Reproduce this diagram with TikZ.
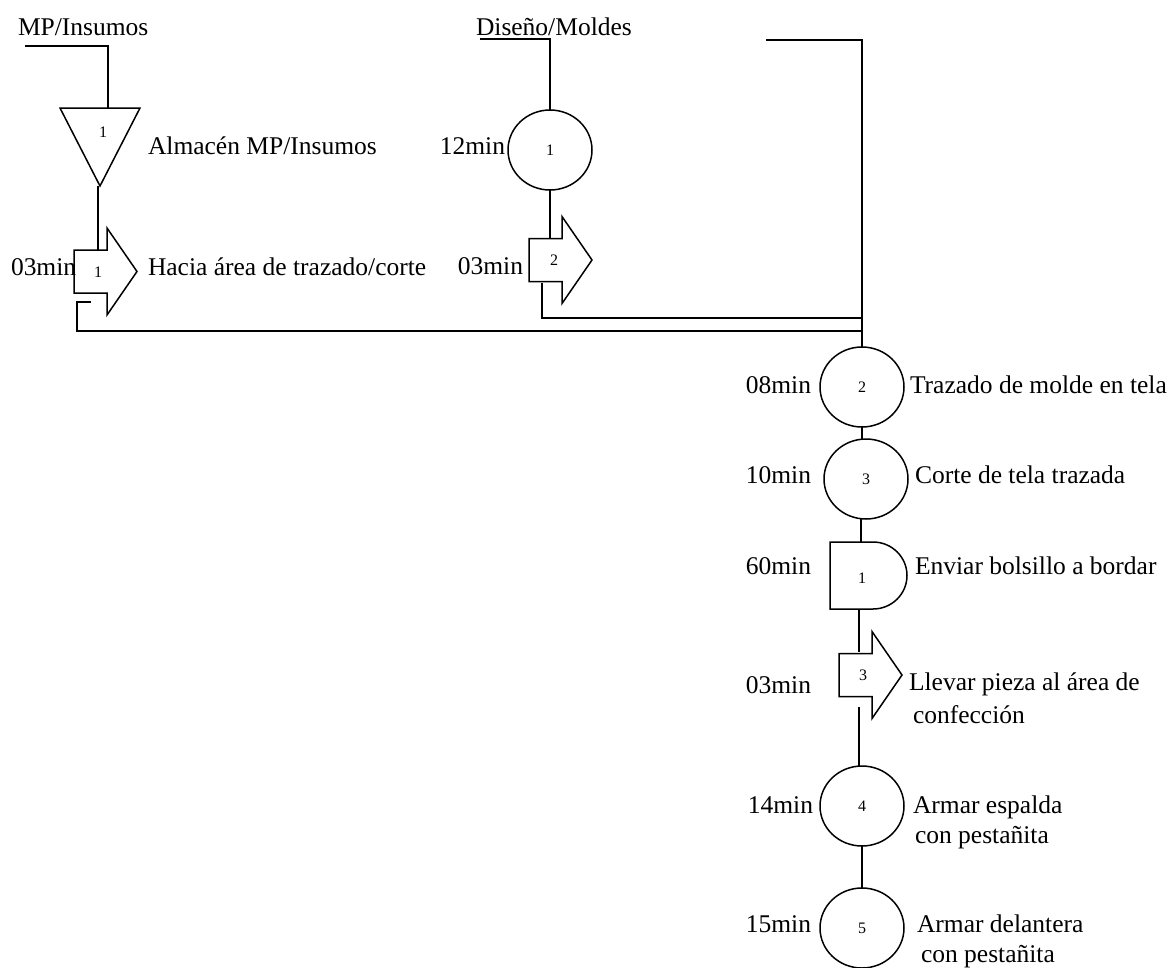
\documentclass[tikz,border=0pt]{standalone}
\usepackage{fontspec}
\setmainfont{Liberation Serif}
\usetikzlibrary{shapes.geometric}
\tikzset{
  pics/transp/.style={code={
    \draw (0,-21.5) -- (33,-21.5) -- (33,-43.5) -- (63,0) -- (33,43.5)
          -- (33,21.5) -- (0,21.5) -- cycle;}}
}
\begin{document}
\begin{tikzpicture}[x=1pt,y=-1pt,
  line width=1.5pt, line join=miter,
  every node/.style={inner sep=0pt, outer sep=0pt},
  lbl/.style={font=\fontsize{25.5}{30}\selectfont, align=left},
  num/.style={font=\fontsize{16}{16}\selectfont},
  oper/.style={draw, ellipse, minimum width=84pt, minimum height=80pt, num}]
\useasboundingbox (0,0) rectangle (1173,967);

% --- storage of raw material (triangle) and first transport
\draw (60,108) -- (140,108) -- (100,186) -- cycle;
\node[num] (alm) at (103,132) {1};
\coordinate (almtop) at (108,108);
\coordinate (almtip) at (98,186);
\pic at (74,271.5) {transp};
\node[num] (t1) at (98,272) {1};
\coordinate (t1top) at (98,250);

% --- design / patterns branch
\node[oper] (c1) at (550,150) {1};
\pic at (529,260) {transp};
\node[num] (t2) at (554,260) {2};
\coordinate (t2top) at (550,238);

% --- main line operations
\node[oper] (c2) at (862,387) {2};
\node[oper] (c3) at (866,479) {3};
\draw (830,542) -- (873,542) arc[start angle=90, end angle=-90, x radius=34pt, y radius=33.5pt] -- (830,609) -- cycle;
\node[num] (d1) at (862,578) {1};
\coordinate (d1top) at (861,542);
\coordinate (d1bot) at (859,609);
\pic at (839,675) {transp};
\node[num] (t3) at (863,675) {3};
\coordinate (t3top) at (859,652);
\coordinate (t3out) at (859,707);
\node[oper] (c4) at (862,806) {4};
\node[oper] (c5) at (862,928) {5};

% --- connectors
\coordinate (mp) at (25,46);
\draw (mp) -| (almtop);
\draw (almtip) -- (t1top);
\coordinate (b1) at (91,302);
\coordinate (j1) at (862,331);
\draw (b1) -- (77,302) |- (j1);
\coordinate (b2) at (542,283);
\coordinate (j2) at (862,318);
\draw (b2) |- (j2);
\coordinate (dm) at (480,39);
\draw (dm) -| (c1.north);
\draw (c1.south) -- (t2top);
\coordinate (tr) at (766,40);
\draw (tr) -| (c2.north);
\draw (c2.south) -- (c2.south |- c3.north);
\draw (d1top |- c3.south) -- (d1top);
\draw (d1bot) -- (t3top);
\draw (t3out) -- (t3out |- c4.north);
\draw (c4.south) -- (c5.north);

% --- texts (multi-line labels are anchored on their last baseline)
\node[lbl, anchor=base west] (hmp) at (18,35) {MP/Insumos};
\node[lbl, anchor=base west] (hdm) at (476,35) {Diseño/Moldes};
\node[lbl, anchor=base west] (lalm) at (148,154) {Almacén MP/Insumos};
\node[lbl, anchor=base west] (lt1) at (148,275) {Hacia área de trazado/corte};
\node[lbl, anchor=base west] (mt1) at (11,275) {03min};
\node[lbl, anchor=base east] (mc1) at (505,154) {12min};
\node[lbl, anchor=base east] (mt2) at (523,274) {03min};
\node[lbl, anchor=base east] (mc2) at (811,393) {08min};
\node[lbl, anchor=base west] (lc2) at (910,393) {Trazado de molde en tela};
\node[lbl, anchor=base east] (mc3) at (811,483) {10min};
\node[lbl, anchor=base west] (lc3) at (915,483) {Corte de tela trazada};
\node[lbl, anchor=base east] (md1) at (811,574) {60min};
\node[lbl, anchor=base west] (ld1) at (915,574) {Enviar bolsillo a bordar};
\node[lbl, anchor=base east] (mt3) at (811,693) {03min};
\node[lbl, anchor=base west] (lt3) at (909,723) {Llevar pieza al área de\\[3pt]\hspace*{4pt}confección};
\node[lbl, anchor=base east] (mc4) at (813,813) {14min};
\node[lbl, anchor=base west] (lc4) at (913,843) {Armar espalda\\\hspace*{2pt}con pestañita};
\node[lbl, anchor=base east] (mc5) at (811,932) {15min};
\node[lbl, anchor=base west] (lc5) at (917,962) {Armar delantera\\\hspace*{4pt}con pestañita};
\end{tikzpicture}
\end{document}
